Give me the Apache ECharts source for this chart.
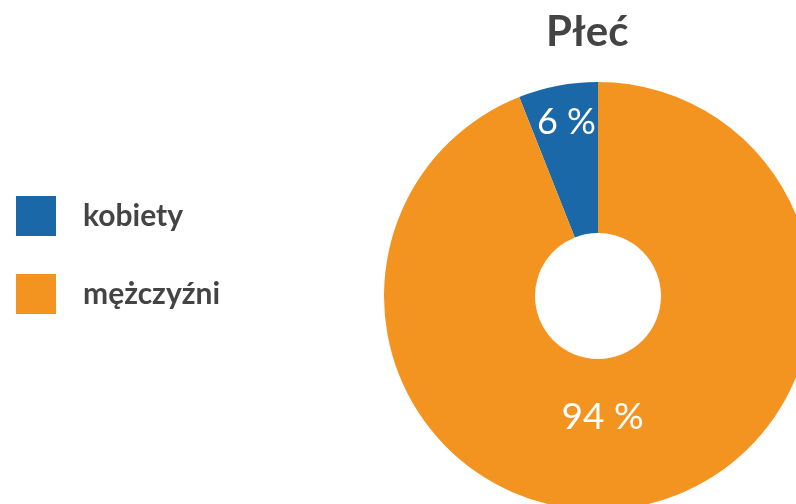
<!DOCTYPE html>
<html>
<head>
<meta charset="utf-8">
<script src="https://cdn.jsdelivr.net/npm/echarts@6/dist/echarts.min.js"></script>
<style>
  html, body { margin: 0; padding: 0; background: #fff; }
  #chart { width: 796px; height: 504px; }
</style>
</head>
<body>
<div id="chart"></div>
<script>
// dane
const categories = ["kobiety", "mężczyźni"];
const values = [6, 94];
const colors = ["#1b68a8", "#f39420"];

const chart = echarts.init(document.getElementById("chart"));

// etykiety przesunięte: pusta linia pod tekstem podnosi go do góry
const pieData = categories.map((name, i) => ({
    name: name,
    value: values[i],
    itemStyle: { color: colors[i] },
    label: i === 0
        ? { padding: [0, 10, 0, 0], rich: { v: { fontSize: 36 }, s: { height: 70 } } }
        : { padding: [0, 44, 0, 0], rich: { v: { fontSize: 37 }, s: { height: 36 } } },
}));

const option = {
    animation: false,
    title: {
        text: "Płeć",
        left: 541,
        top: 6,
        textStyle: { fontFamily: "Lato", fontSize: 42, fontWeight: "bold", color: "#444" },
    },
    legend: {
        orient: "vertical",
        left: 11,
        top: 191,
        itemWidth: 40,
        itemHeight: 40,
        itemGap: 38,
        icon: "rect",
        data: categories,
        textStyle: {
            fontFamily: "Lato",
            fontSize: 30,
            fontWeight: "bold",
            color: "#444",
            padding: [0, 0, 0, 22],
        },
    },
    series: [
        {
            type: "pie",
            center: [598, 296],
            radius: [63, 214],
            startAngle: 90,
            clockwise: false,
            label: {
                show: true,
                position: "inside",
                formatter: "{v|{c} %}\n{s| }",
                color: "#fff",
                fontFamily: "Lato",
                fontWeight: "normal",
                rich: {
                    v: { color: "#fff", fontFamily: "Lato" },
                    s: { fontSize: 1 },
                },
            },
            labelLine: { show: false },
            emphasis: { disabled: true },
            data: pieData,
        },
    ],
};

chart.setOption(option);
</script>
</body>
</html>
